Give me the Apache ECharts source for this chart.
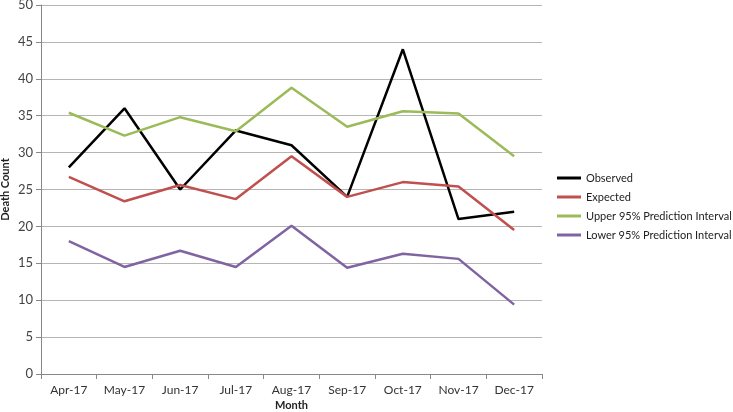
<!DOCTYPE html>
<html><head><meta charset="utf-8">
<script src="https://cdn.jsdelivr.net/npm/echarts@6/dist/echarts.min.js"></script>
<style>html,body{margin:0;padding:0;background:#fff}#c{width:733px;height:412px}</style>
</head><body><div id="c"></div>
<script>
var months = ['Apr-17','May-17','Jun-17','Jul-17','Aug-17','Sep-17','Oct-17','Nov-17','Dec-17'];
var observed = [28, 36, 25, 33, 31, 24, 44, 21, 22];
var expected = [26.7, 23.4, 25.6, 23.7, 29.5, 24.0, 26.0, 25.4, 19.5];
var upper95 = [35.4, 32.3, 34.8, 32.9, 38.8, 33.5, 35.6, 35.3, 29.5];
var lower95 = [18.0, 14.5, 16.7, 14.5, 20.1, 14.4, 16.3, 15.6, 9.4];
var yTicks = [0,5,10,15,20,25,30,35,40,45,50];

var font = "Lato, 'Open Sans', sans-serif";
function ser(name, data, color){
  return {name:name, type:'line', data:data, symbol:'none', lineStyle:{width:2.5,color:color}, itemStyle:{color:color}};
}
var chart = echarts.init(document.getElementById('c'));
chart.setOption({
  animation:false,
  grid:{left:41, right:191, top:5, bottom:38, containLabel:false, outerBoundsMode:'none'},
  legend:{
    orient:'vertical', left:557, top:171, padding:0, itemWidth:24, itemHeight:3, itemGap:5, icon:'rect',
    textStyle:{fontFamily:font, fontSize:11, color:'#222', lineHeight:14},
    data:['Observed','Expected','Upper 95% Prediction Interval','Lower 95% Prediction Interval']
  },
  xAxis:{
    type:'category', data:months, boundaryGap:true,
    name:'Month', nameLocation:'middle', nameGap:26, nameMoveOverlap:false,
    nameTextStyle:{fontFamily:font, fontWeight:'bold', fontSize:11, color:'#222'},
    axisLine:{lineStyle:{color:'#888', width:1}},
    axisTick:{show:true, length:5, alignWithLabel:false, lineStyle:{color:'#888'}},
    axisLabel:{fontFamily:font, fontSize:12, color:'#333', margin:10}
  },
  yAxis:{
    type:'value', min:0, max:50, interval:5,
    name:'Death Count', nameLocation:'middle', nameGap:30, nameRotate:90, nameMoveOverlap:false,
    nameTextStyle:{fontFamily:font, fontWeight:'bold', fontSize:11, color:'#222'},
    axisLine:{show:true, lineStyle:{color:'#888'}},
    axisTick:{show:true, length:5, inside:false, lineStyle:{color:'#888'}},
    axisLabel:{fontFamily:font, fontSize:13, color:'#444', margin:8,
      formatter:function(v){return yTicks.indexOf(v)>=0 ? String(v) : '';}},
    splitLine:{lineStyle:{color:'#b5b5b5', width:1}}
  },
  series:[
    ser('Observed', observed, '#000000'),
    ser('Expected', expected, '#c0504d'),
    ser('Upper 95% Prediction Interval', upper95, '#9bbb59'),
    ser('Lower 95% Prediction Interval', lower95, '#8064a2')
  ]
});
</script>
</body></html>
